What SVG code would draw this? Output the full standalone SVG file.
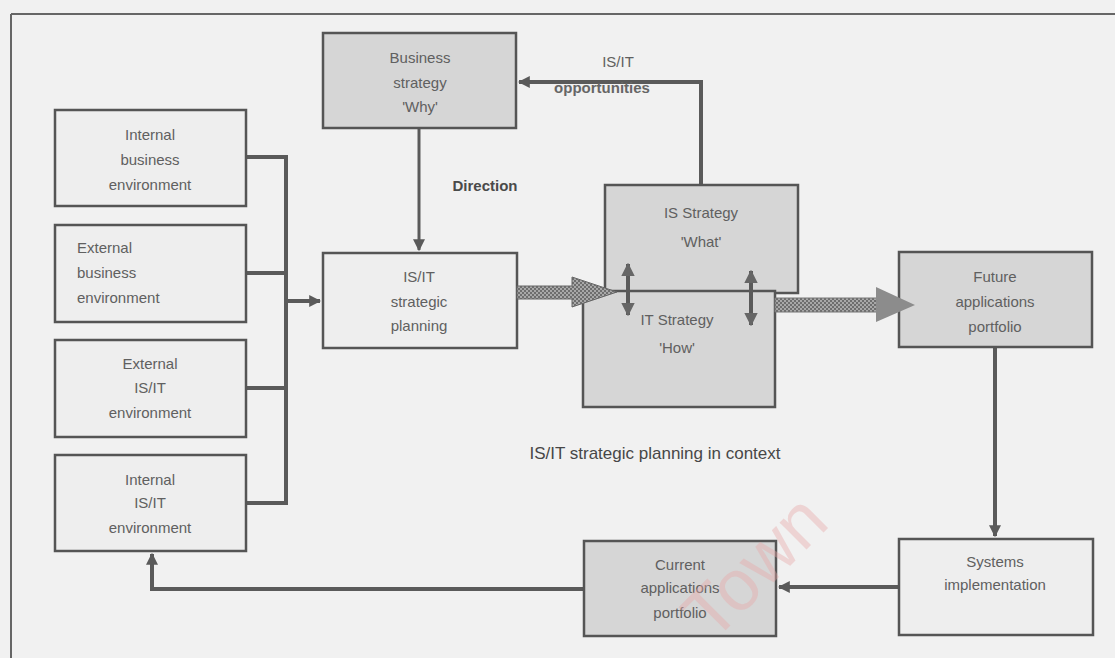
<svg xmlns="http://www.w3.org/2000/svg" width="1115" height="658" viewBox="0 0 1115 658">
<defs>
<style>
.bl{fill:#eeeeee;stroke:#555;stroke-width:2.5}
.bd{fill:#d6d6d6;stroke:#555;stroke-width:2.5}
.t{font-family:"Liberation Sans",Arial,sans-serif;font-size:15px;fill:#606060;text-anchor:middle}
.tl{font-family:"Liberation Sans",Arial,sans-serif;font-size:15px;fill:#606060}
.c{fill:none;stroke:#5a5a5a;stroke-width:4}
.c3{fill:none;stroke:#5a5a5a;stroke-width:3}
</style>
<marker id="ah" viewBox="0 0 10 10" refX="9" refY="5" markerWidth="3" markerHeight="3" orient="auto-start-reverse" markerUnits="strokeWidth">
<path d="M0,0 L10,5 L0,10 z" fill="#5a5a5a"/>
</marker>
<marker id="ah2" viewBox="0 0 10 10" refX="9" refY="5" markerWidth="4" markerHeight="4" orient="auto-start-reverse" markerUnits="strokeWidth">
<path d="M0,0 L10,5 L0,10 z" fill="#5a5a5a"/>
</marker>
<marker id="dh" viewBox="0 0 10 10" refX="9" refY="5" markerWidth="3.4" markerHeight="3.4" orient="auto-start-reverse" markerUnits="strokeWidth">
<path d="M0,0 L10,5 L0,10 z" fill="#666"/>
</marker>
<pattern id="hatch" width="4" height="4" patternUnits="userSpaceOnUse">
<rect width="4" height="4" fill="#6e6e6e"/>
<rect width="2" height="2" fill="#a8a8a8"/>
<rect x="2" y="2" width="2" height="2" fill="#a8a8a8"/>
</pattern>
</defs>
<rect width="1115" height="658" fill="#f1f1f1"/>
<g id="frame">
<line x1="11" y1="14" x2="1115" y2="14" stroke="#666" stroke-width="2"/>
<line x1="11" y1="14" x2="11" y2="658" stroke="#666" stroke-width="2"/>
</g>
<g id="connectors">
<path class="c" d="M246,157 H286 V503 H246"/>
<path class="c" d="M246,273 H286"/>
<path class="c" d="M246,388 H286"/>
<path class="c" d="M286,301 H320" marker-end="url(#ah)"/>
<path class="c3" d="M419,128 V250" marker-end="url(#ah2)"/>
<path class="c" d="M701,185 V82 H519" marker-end="url(#ah)"/>
<path class="c" d="M995,347 V536" marker-end="url(#ah)"/>
<path class="c" d="M899,587 H779" marker-end="url(#ah)"/>
<path class="c" d="M584,589 H152 V554" marker-end="url(#ah)"/>
</g>
<g id="is-strategy"><rect class="bd" x="605" y="185" width="193" height="108"/>
<text class="t" x="701" y="218">IS Strategy</text><text class="t" x="701" y="247">'What'</text></g>
<g id="it-strategy"><rect class="bd" x="583" y="291" width="192" height="116"/>
<text class="t" x="677" y="325">IT Strategy</text><text class="t" x="677" y="353">'How'</text></g>
<g id="business-strategy"><rect class="bd" x="323" y="33" width="193" height="95"/>
<text class="t" x="420" y="63">Business</text><text class="t" x="420" y="88">strategy</text><text class="t" x="420" y="112">'Why'</text></g>
<g id="internal-business"><rect class="bl" x="55" y="110" width="191" height="96"/>
<text class="t" x="150" y="140">Internal</text><text class="t" x="150" y="165">business</text><text class="t" x="150" y="190">environment</text></g>
<g id="external-business"><rect class="bl" x="55" y="225" width="191" height="97"/>
<text class="tl" x="77" y="253">External</text><text class="tl" x="77" y="278">business</text><text class="tl" x="77" y="303">environment</text></g>
<g id="external-isit"><rect class="bl" x="55" y="340" width="191" height="97"/>
<text class="t" x="150" y="369">External</text><text class="t" x="150" y="393">IS/IT</text><text class="t" x="150" y="418">environment</text></g>
<g id="internal-isit"><rect class="bl" x="55" y="455" width="191" height="96"/>
<text class="t" x="150" y="485">Internal</text><text class="t" x="150" y="508">IS/IT</text><text class="t" x="150" y="533">environment</text></g>
<g id="isit-planning"><rect class="bl" x="323" y="253" width="194" height="95"/>
<text class="t" x="419" y="282">IS/IT</text><text class="t" x="419" y="307">strategic</text><text class="t" x="419" y="331">planning</text></g>
<g id="future-portfolio"><rect class="bd" x="899" y="252" width="193" height="95"/>
<text class="t" x="995" y="282">Future</text><text class="t" x="995" y="307">applications</text><text class="t" x="995" y="332">portfolio</text></g>
<g id="systems-impl"><rect class="bl" x="899" y="539" width="194" height="96"/>
<text class="t" x="995" y="567">Systems</text><text class="t" x="995" y="590">implementation</text></g>
<g id="current-portfolio"><rect class="bd" x="584" y="541" width="192" height="95"/>
<text class="t" x="680" y="570">Current</text><text class="t" x="680" y="593">applications</text><text class="t" x="680" y="618">portfolio</text></g>
<g id="thick-arrows">
<path d="M517,286 H572 V277 L617,292 L572,307 V299 H517 Z" fill="url(#hatch)" stroke="#666" stroke-width="1"/>
<path d="M775,298 H878 V312 H775 Z" fill="url(#hatch)" stroke="#777" stroke-width="1"/>
<path d="M876,287 L915,305 L876,322 Z" fill="#8c8c8c"/>
</g>
<g id="double-arrows">
<path class="c" d="M628,264 V315" marker-start="url(#dh)" marker-end="url(#dh)" stroke="#666"/>
<path class="c" d="M751,271 V325" marker-start="url(#dh)" marker-end="url(#dh)" stroke="#666"/>
</g>
<g id="labels">
<text x="485" y="191" font-family="'Liberation Sans',Arial,sans-serif" font-size="15" font-weight="bold" fill="#4a4a4a" text-anchor="middle">Direction</text>
<text x="618" y="67" font-family="'Liberation Sans',Arial,sans-serif" font-size="15" fill="#606060" text-anchor="middle">IS/IT</text>
<text x="602" y="93" font-family="'Liberation Sans',Arial,sans-serif" font-size="15" font-weight="bold" fill="#666" text-anchor="middle">opportunities</text>
<text x="655" y="459" font-family="'Liberation Sans',Arial,sans-serif" font-size="17" fill="#474747" text-anchor="middle">IS/IT strategic planning in context</text>
</g>
<g id="watermark" opacity="0.4">
<text x="0" y="0" transform="translate(772,584) rotate(-45)" font-family="'Liberation Sans',Arial,sans-serif" font-size="72" fill="#e8a8a8" text-anchor="middle">Town</text>
</g>
</svg>
